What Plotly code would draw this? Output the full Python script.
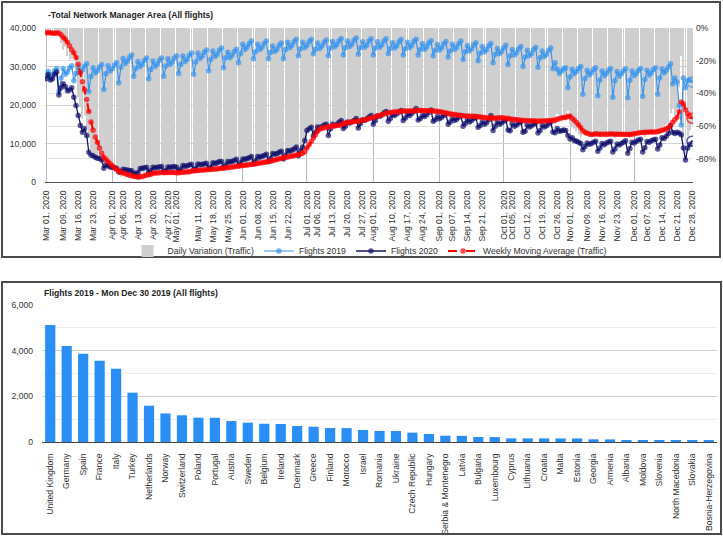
import pandas as pd
import plotly.graph_objects as go

# ---------------- data (top chart) ----------------
start_date = "2020-03-01"

flights_2019 = [
    27600, 28700, 27300, 27900, 28900, 29500, 23500,
    27000, 29400, 28000, 28600, 29600, 30200, 26300,
    28200, 29900, 28500, 29100, 30100, 30700, 23500,
    27400, 29700, 28300, 28900, 29900, 30500, 24000,
    28100, 30200, 28800, 29400, 30400, 31000, 25800,
    29800, 32100, 30800, 31400, 32400, 33000, 27500,
    29500, 31300, 30000, 30600, 31600, 32200, 26800,
    29200, 31400, 30000, 30600, 31600, 32200, 27500,
    30100, 32000, 30600, 31200, 32200, 32800, 28200,
    30500, 32700, 31300, 31900, 32900, 33500, 28000,
    31200, 33500, 32100, 32700, 33700, 34300, 28900,
    31800, 34000, 32600, 33200, 34200, 34800, 29700,
    32300, 33700, 32300, 32900, 33900, 34500, 31000,
    33400, 35800, 34400, 35000, 36000, 36600, 32000,
    33800, 35800, 34400, 35000, 36000, 36600, 32000,
    33700, 35300, 33900, 34500, 35500, 36100, 32000,
    34400, 36300, 34900, 35500, 36500, 37100, 32800,
    34600, 36300, 34900, 35500, 36500, 37100, 33300,
    34500, 36100, 34700, 35300, 36300, 36900, 32800,
    34800, 36500, 35100, 35700, 36700, 37300, 33000,
    34900, 36600, 35200, 35800, 36800, 37400, 33200,
    34900, 36400, 35000, 35600, 36600, 37200, 33000,
    34800, 36400, 35000, 35600, 36600, 37200, 33400,
    34700, 36200, 34800, 35400, 36400, 37000, 33000,
    34600, 36300, 34900, 35500, 36500, 37100, 33000,
    34400, 35900, 34500, 35100, 36100, 36700, 32800,
    34200, 35700, 34300, 34900, 35900, 36500, 32500,
    34000, 35800, 34400, 35000, 36000, 36600, 31800,
    33800, 35400, 34000, 34600, 35600, 36200, 31500,
    33500, 35200, 33800, 34400, 35400, 36000, 31000,
    33200, 34700, 33300, 33900, 34900, 35500, 30500,
    32800, 34400, 33000, 33600, 34600, 35200, 30000,
    32500, 34200, 32800, 33400, 34400, 35000, 29800,
    32300, 34000, 32600, 33200, 34200, 34800, 29500,
    31000, 29300, 28200, 28800, 29400, 29700, 24500,
    27300, 29300, 28100, 28700, 29500, 30000, 22800,
    26800, 29000, 27800, 28400, 29200, 29700, 22400,
    26500, 28800, 27600, 28200, 29000, 29500, 22000,
    26300, 28700, 27500, 28100, 28900, 29400, 21900,
    26400, 28800, 27600, 28200, 29000, 29500, 22300,
    26600, 29000, 27800, 28400, 29200, 29700, 22800,
    27000, 29400, 28300, 29000, 29900, 30700, 25500,
    27000, 26000, 19900, 14800, 27000, 24500, 26300,
    26500, 26000,
]

flights_2020 = [
    26800, 27900, 26500, 26800, 28000, 28600, 22600,
    24500, 25500, 24800, 23700, 23900, 24500, 22000,
    19900, 17300, 14700, 12900, 13900, 12100, 7700,
    7000, 6800, 6400, 6200, 6100, 5700, 3600,
    4400, 4200, 3900, 3800, 3700, 3500, 2600,
    2700, 3300, 3200, 3100, 3000, 2900, 2200,
    2300, 2400, 3500, 3600, 3700, 3800, 2600,
    2900, 3800, 3700, 3800, 3900, 4000, 2700,
    3000, 3900, 3800, 3900, 4000, 3800, 2800,
    3300, 4300, 4100, 4200, 4400, 4600, 3200,
    3600, 4700, 4500, 4600, 4700, 4900, 3500,
    3900, 5000, 4800, 5000, 5300, 5300, 3800,
    4400, 5300, 5200, 5400, 5600, 5900, 4300,
    5000, 6000, 5900, 6100, 6300, 6600, 4900,
    5600, 6600, 6400, 6700, 6900, 7200, 5300,
    6200, 7400, 7200, 7400, 7700, 8000, 6000,
    7000, 8200, 8000, 8300, 8600, 9100, 6800,
    8200, 9000, 10800, 13400, 13800, 14200, 12000,
    13000, 14300, 14000, 14400, 14800, 15000, 12100,
    13800, 15000, 14600, 15000, 15500, 16000, 13900,
    14500, 15600, 15300, 15600, 16000, 16500, 14000,
    15200, 16200, 16000, 16400, 16900, 17300, 15000,
    16000, 17200, 17000, 17500, 18000, 18300, 15800,
    16500, 17500, 17300, 17700, 18200, 18600, 16000,
    16600, 17600, 17300, 17800, 18400, 19100, 16100,
    16500, 17300, 17000, 17500, 18100, 18700, 15800,
    16200, 17000, 16400, 16800, 17300, 17700, 15000,
    15600, 16500, 16000, 16300, 16800, 17300, 14500,
    15200, 16200, 15600, 16000, 16500, 16800, 14200,
    14700, 15600, 15000, 15400, 16200, 17300, 13400,
    14500, 15600, 15000, 15300, 15800, 16200, 13500,
    13300, 15100, 14500, 14800, 15300, 15600, 12900,
    13200, 14800, 14300, 14600, 15000, 15400, 12700,
    13400, 14700, 14300, 14600, 15100, 15600, 13000,
    12800, 13900, 13200, 13300, 13500, 13400, 12100,
    11200, 11500, 10800, 10600, 10300, 10000, 8400,
    9200, 10100, 9800, 10000, 10300, 10600, 8000,
    8800, 10000, 9700, 10100, 10400, 10600, 7800,
    8600, 9900, 9600, 10000, 10300, 10700, 7500,
    8700, 10300, 10100, 10600, 10900, 11100, 7800,
    8900, 10500, 10300, 10700, 11000, 11100, 8600,
    9600, 11500, 11300, 11900, 12600, 14700, 12900,
    12600, 12900, 12700, 12300, 8800, 5700, 8800,
    9800, 10600,
]

tick_dates = [
    "2020-03-01", "2020-03-09", "2020-03-16", "2020-03-23", "2020-04-01",
    "2020-04-06", "2020-04-13", "2020-04-20", "2020-04-27", "2020-05-01",
    "2020-05-11", "2020-05-18", "2020-05-25", "2020-06-01", "2020-06-08",
    "2020-06-15", "2020-06-22", "2020-07-01", "2020-07-06", "2020-07-13",
    "2020-07-20", "2020-07-27", "2020-08-01", "2020-08-10", "2020-08-17",
    "2020-08-24", "2020-09-01", "2020-09-07", "2020-09-14", "2020-09-21",
    "2020-10-01", "2020-10-05", "2020-10-12", "2020-10-19", "2020-10-26",
    "2020-11-01", "2020-11-09", "2020-11-16", "2020-11-23", "2020-12-01",
    "2020-12-07", "2020-12-14", "2020-12-21", "2020-12-28",
]
pct_ticks = [0, -20, -40, -60, -80]

# ---------------- data (bottom chart) ----------------
countries = [
    "United Kingdom", "Germany", "Spain", "France", "Italy", "Turkey",
    "Netherlands", "Norway", "Switzerland", "Poland", "Portugal", "Austria",
    "Sweden", "Belgium", "Ireland", "Denmark", "Greece", "Finland", "Morocco",
    "Israel", "Romania", "Ukraine", "Czech Republic", "Hungary",
    "Serbia & Montenegro", "Latvia", "Bulgaria", "Luxembourg", "Cyprus",
    "Lithuania", "Croatia", "Malta", "Estonia", "Georgia", "Armenia",
    "Albania", "Moldova", "Slovenia", "North Macedonia", "Slovakia",
    "Bosnia-Herzegovina",
]
country_flights = [
    5120, 4200, 3870, 3560, 3210, 2160, 1590, 1250, 1170, 1065, 1060, 920,
    846, 800, 790, 700, 670, 613, 610, 525, 482, 480, 410, 350, 277, 270,
    219, 215, 160, 160, 158, 155, 155, 118, 115, 88, 60, 55, 55, 50, 48,
]

# ---------------- derived series ----------------
dates = pd.date_range(start_date, periods=len(flights_2019), freq="D")
s19 = pd.Series(flights_2019, dtype=float)
s20 = pd.Series(flights_2020, dtype=float)
daily_variation = ((s20 / s19) - 1.0) * 100.0
weekly_avg = daily_variation.rolling(7, min_periods=1).mean()

n = len(dates)
sizes = [4] * (n - 1) + [10]
symbols = ["circle"] * (n - 1) + ["circle-open-dot"]

FONT = "Arial, 'Liberation Sans', sans-serif"
W, H = 723, 537


def px_x(p):
    return p / W


def px_y(p):
    return 1 - p / H


C19 = "#3a95ee"
C20 = "#13136e"
CRED = "#ff0000"

fig = go.Figure()
fig.add_trace(go.Bar(
    x=dates, y=daily_variation, name="Daily Variation (Traffic)",
    marker=dict(color="#cfcfcf", line=dict(width=0)),
    width=0.45 * 86400000, xaxis="x", yaxis="y",
))
fig.add_trace(go.Scatter(
    x=dates, y=flights_2019, name="Flights 2019", mode="lines+markers",
    line=dict(color=C19, width=1.2),
    marker=dict(color=C19, size=sizes, symbol=symbols, line=dict(color=C19, width=1.5)),
    xaxis="x", yaxis="y2",
))
fig.add_trace(go.Scatter(
    x=dates, y=flights_2020, name="Flights 2020", mode="lines+markers",
    line=dict(color=C20, width=1.3),
    marker=dict(color=C20, size=sizes, symbol=symbols, line=dict(color=C20, width=1.5)),
    xaxis="x", yaxis="y2",
))
fig.add_trace(go.Scatter(
    x=dates, y=weekly_avg, name="Weekly Moving Average (Traffic)", mode="lines+markers",
    line=dict(color=CRED, width=2, dash="dash"),
    marker=dict(color=CRED, size=sizes, symbol=symbols, line=dict(color=CRED, width=1.5)),
    xaxis="x", yaxis="y3",
))
fig.add_trace(go.Bar(
    x=countries, y=country_flights, name="Flights 2019",
    marker=dict(color="#2a8ef5", line=dict(width=0)), width=0.62,
    xaxis="x2", yaxis="y4", showlegend=False,
))

tick_font = dict(family=FONT, size=8.6, color="#333")
pct_range = [-94.15, 0]

fig.update_layout(
    width=W, height=H, margin=dict(l=0, r=0, t=0, b=0),
    paper_bgcolor="white", plot_bgcolor="white",
    font=dict(family=FONT, size=8.6, color="#333"),
    hovermode=False,
    showlegend=True,
    legend=dict(orientation="h", x=px_x(370), y=px_y(251), xanchor="center",
                yanchor="middle", font=dict(family=FONT, size=8.6, color="#333"),
                bgcolor="rgba(0,0,0,0)", itemwidth=30, tracegroupgap=0),
    xaxis=dict(
        domain=[px_x(45), px_x(693)], anchor="y", type="date",
        range=["2020-02-29 12:00", "2020-12-28 12:00"],
        tickmode="array", tickvals=tick_dates,
        ticktext=[pd.Timestamp(d).strftime("%b %d, %Y") for d in tick_dates],
        tickangle=-90, tickfont=tick_font, ticks="", showgrid=False,
        minor=dict(dtick="M1", tick0="2020-03-01", showgrid=True,
                   gridcolor="#b9b9b9", gridwidth=1),
        showline=True, linecolor="#555", linewidth=1, automargin=False,
        zeroline=False, ticklabelstandoff=4,
    ),
    yaxis=dict(
        domain=[px_y(182), px_y(28)], anchor="x", side="right",
        range=pct_range, tickmode="array", tickvals=pct_ticks,
        ticktext=[f"{v}%" for v in pct_ticks], tickfont=tick_font,
        showgrid=True, gridcolor="#e3e3e3", zeroline=False, ticks="",
        automargin=False, ticklabelstandoff=2,
    ),
    yaxis2=dict(
        overlaying="y", anchor="x", side="left", range=[0, 40000],
        dtick=10000, tickformat=",", tickfont=tick_font,
        showgrid=True, gridcolor="#cfcfcf", zeroline=False, ticks="",
        automargin=False, ticklabelstandoff=8,
    ),
    yaxis3=dict(overlaying="y", anchor="x", range=pct_range, visible=False,
                showgrid=False, zeroline=False),
    xaxis2=dict(
        domain=[px_x(42), px_x(717)], anchor="y4", type="category",
        tickangle=-90, tickfont=tick_font, ticks="", showgrid=False,
        showline=True, linecolor="#444", linewidth=1.2, automargin=False,
        ticklabelstandoff=7, range=[-0.5, len(countries) - 0.5],
    ),
    yaxis4=dict(
        domain=[px_y(442), px_y(305)], anchor="x2", range=[0, 6000],
        dtick=2000, tickformat=",", tickfont=tick_font, showgrid=True,
        gridcolor="#d2d2d2", zeroline=False, ticks="",
        minor=dict(dtick=1000, showgrid=True, gridcolor="#ececec"),
        automargin=False, ticklabelstandoff=8,
    ),
    annotations=[
        dict(text="<b>-Total Network Manager Area (All flights)</b>",
             x=px_x(46), y=px_y(15), xref="paper", yref="paper",
             xanchor="left", yanchor="middle", showarrow=False,
             font=dict(family=FONT, size=8.6, color="#222")),
        dict(text="<b>Flights 2019 - Mon Dec 30 2019 (All flights)</b>",
             x=px_x(42), y=px_y(293), xref="paper", yref="paper",
             xanchor="left", yanchor="middle", showarrow=False,
             font=dict(family=FONT, size=8.6, color="#222")),
    ],
    shapes=[
        dict(type="rect", xref="paper", yref="paper",
             x0=px_x(2), x1=px_x(720), y0=px_y(257), y1=px_y(2),
             line=dict(color="#4a4a4a", width=2), fillcolor="rgba(0,0,0,0)"),
        dict(type="rect", xref="paper", yref="paper",
             x0=px_x(2), x1=px_x(721), y0=px_y(534), y1=px_y(282),
             line=dict(color="#4a4a4a", width=2), fillcolor="rgba(0,0,0,0)"),
    ],
)

fig.write_html(
    "out.html",
    config={"displayModeBar": False},
    post_script="document.body.style.margin='0px';document.body.style.overflow='hidden';",
)
